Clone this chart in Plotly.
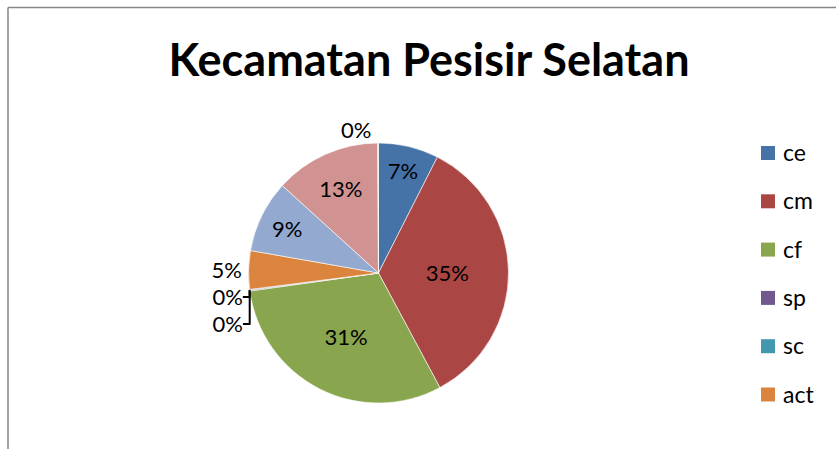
import plotly.graph_objects as go

# ---- data ----
categories = ["ce", "cm", "cf", "sp", "sc", "act", "dca", "r", "s"]
values = [7.5, 34.8, 30.7, 0.1, 0.1, 4.8, 9.0, 13.2, 0.1]
colors = ["#4572A7", "#AA4643", "#89A54E", "#71588F", "#4198AF",
          "#DB843D", "#93A9CF", "#D19392", "#B9CD96"]
text_pos = ["inside", "inside", "inside", "outside", "outside",
            "outside", "inside", "inside", "outside"]
legend_visible = categories[:6]   # the rest of the legend falls outside the crop
title_text = "Kecamatan Pesisir Selatan"

W, H = 836, 449
FONT = "Lato"

fig = go.Figure()

cx, cy, r = 378.5, 273, 130
fig.add_trace(go.Pie(
    labels=categories,
    values=values,
    sort=False,
    direction="clockwise",
    rotation=0,
    marker=dict(colors=colors, line=dict(color="white", width=0.6)),
    texttemplate="%{percent:.0%}",
    textposition=text_pos,
    insidetextorientation="horizontal",
    textfont=dict(family=FONT, size=22, color="black"),
    showlegend=False,
    hoverinfo="label+percent",
    domain=dict(x=[(cx - r) / W, (cx + r) / W],
                y=[(H - cy - r) / H, (H - cy + r) / H]),
))

shapes = []
annotations = []
# chart-area border (top and left edges visible in crop)
shapes.append(dict(type="line", xref="paper", yref="paper",
                   x0=8 / W, x1=1.01, y0=1 - 7.5 / H, y1=1 - 7.5 / H,
                   line=dict(color="#868686", width=1.5)))
shapes.append(dict(type="line", xref="paper", yref="paper",
                   x0=8 / W, x1=8 / W, y0=-0.01, y1=1 - 7.5 / H,
                   line=dict(color="#868686", width=1.5)))

# legend
lx, ly0, dy, sq = 761, 153, 48.3, 14
for i, name in enumerate(legend_visible):
    yc = ly0 + i * dy
    shapes.append(dict(type="rect", xref="paper", yref="paper",
                       x0=lx / W, x1=(lx + sq) / W,
                       y0=1 - (yc + sq / 2) / H, y1=1 - (yc - sq / 2) / H,
                       fillcolor=colors[i], line=dict(width=0)))
    annotations.append(dict(text=name, xref="paper", yref="paper",
                            x=(lx + sq + 6) / W, y=1 - (yc - 1) / H,
                            xanchor="left", yanchor="middle", showarrow=False,
                            font=dict(family=FONT, size=23, color="black")))

fig.update_layout(
    width=W, height=H,
    margin=dict(l=0, r=0, t=0, b=0),
    paper_bgcolor="white",
    plot_bgcolor="white",
    title=dict(text="<b>" + title_text + "</b>", x=429 / W, y=1 - 60 / H,
               xanchor="center", yanchor="middle",
               font=dict(family=FONT, size=45, color="black")),
    shapes=shapes,
    annotations=annotations,
)

fig.write_html("out.html", config={"displayModeBar": False},
               post_script="document.body.style.margin='0';")
